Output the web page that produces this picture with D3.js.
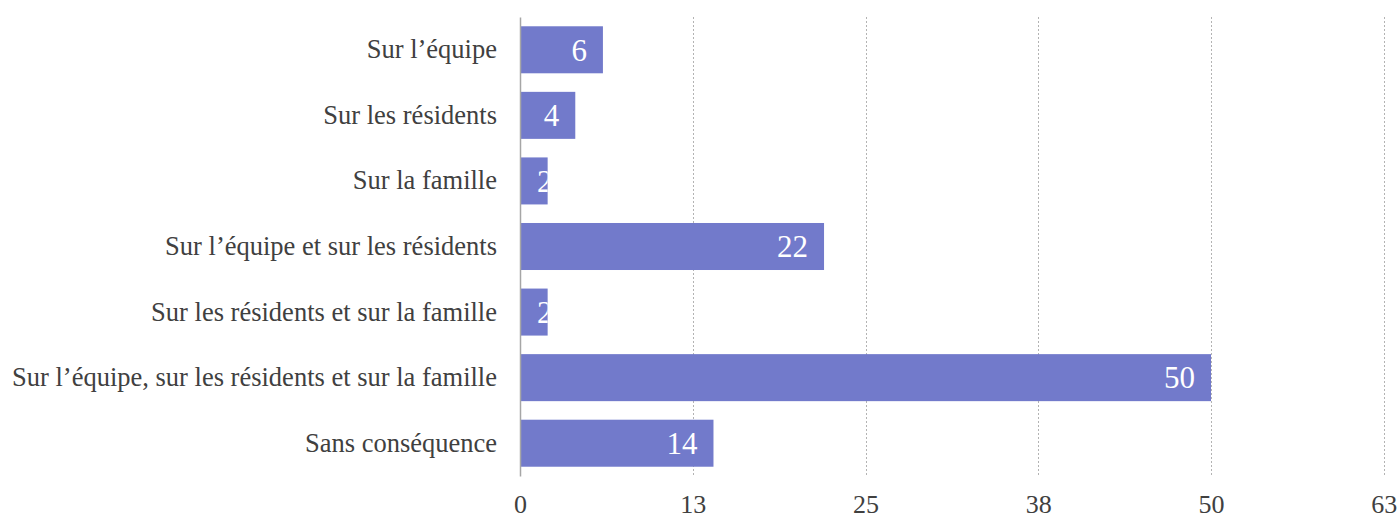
<!DOCTYPE html>
<html>
<head>
<meta charset="utf-8">
<script src="https://cdn.jsdelivr.net/npm/d3@7"></script>
<style>
  html, body { margin: 0; padding: 0; background: #fff; }
  svg { display: block; }
  text { font-family: "Liberation Serif", "Times New Roman", serif; }
</style>
</head>
<body>
<svg id="chart" width="1397" height="520"></svg>
<script>
// Categories and counts
const categories = [
  "Sur l’équipe",
  "Sur les résidents",
  "Sur la famille",
  "Sur l’équipe et sur les résidents",
  "Sur les résidents et sur la famille",
  "Sur l’équipe, sur les résidents et sur la famille",
  "Sans conséquence"
];
const values = [6, 4, 2, 22, 2, 50, 14];
const tickValues = [0, 12.5, 25, 37.5, 50, 62.5];
const tickLabels = ["0", "13", "25", "38", "50", "63"];

const svg = d3.select("#chart");
const margin = { top: 17, right: 14, bottom: 44, left: 520 };
const height = 520 - margin.top - margin.bottom;

const x = d3.scaleLinear().domain([0, 62.5]).range([0, 863.75]);
const y = d3.scaleBand().domain(categories).range([0, height])
  .paddingInner(0.283).paddingOuter(0.1415);

const g = svg.append("g").attr("transform", `translate(${margin.left},${margin.top})`);

// dotted gridlines
g.selectAll("line.grid").data(tickValues.slice(1)).enter().append("line")
  .attr("class", "grid")
  .attr("x1", d => Math.round(x(d)) + 0.5).attr("x2", d => Math.round(x(d)) + 0.5)
  .attr("y1", 0).attr("y2", height)
  .attr("stroke", "#b3b3b3").attr("stroke-width", 1)
  .attr("stroke-dasharray", "2,2");

// bars
const defs = svg.append("defs");
categories.forEach((c, i) => {
  defs.append("clipPath").attr("id", "clip" + i)
    .append("rect")
    .attr("x", x(0)).attr("y", y(c))
    .attr("width", x(values[i]) - x(0)).attr("height", y.bandwidth());
});

g.selectAll("rect.bar").data(categories).enter().append("rect")
  .attr("class", "bar")
  .attr("x", x(0))
  .attr("y", d => y(d))
  .attr("width", (d, i) => x(values[i]) - x(0))
  .attr("height", y.bandwidth())
  .attr("fill", "#727acb");

// value labels inside bars, clipped to the bar
g.selectAll("text.val").data(categories).enter().append("text")
  .attr("class", "val")
  .attr("clip-path", (d, i) => `url(#clip${i})`)
  .attr("y", d => y(d) + y.bandwidth() / 2)
  .attr("dy", "0.35em")
  .attr("fill", "#ffffff")
  .attr("font-size", 31)
  .text((d, i) => values[i])
  .each(function (d, i) {
    const w = this.getComputedTextLength();
    let xs = x(values[i]) - 16 - w;
    if (xs < 17) xs = 17;
    d3.select(this).attr("x", xs);
  });

// category axis
const yAxis = g.append("g").call(d3.axisLeft(y).tickSize(0).tickPadding(23));
yAxis.select(".domain").attr("stroke", "#a6a6a6").attr("stroke-width", 1.5);
yAxis.selectAll("text").attr("font-size", 26.5).attr("fill", "#404040")
  .attr("font-family", "'Liberation Serif', 'Times New Roman', serif");

// value axis labels
const xAxis = g.append("g").attr("transform", `translate(0,${height})`)
  .call(d3.axisBottom(x).tickValues(tickValues).tickFormat((d, i) => tickLabels[i]).tickSize(0).tickPadding(19));
xAxis.select(".domain").remove();
xAxis.selectAll("text").attr("font-size", 26).attr("fill", "#404040")
  .attr("font-family", "'Liberation Serif', 'Times New Roman', serif");
</script>
</body>
</html>
